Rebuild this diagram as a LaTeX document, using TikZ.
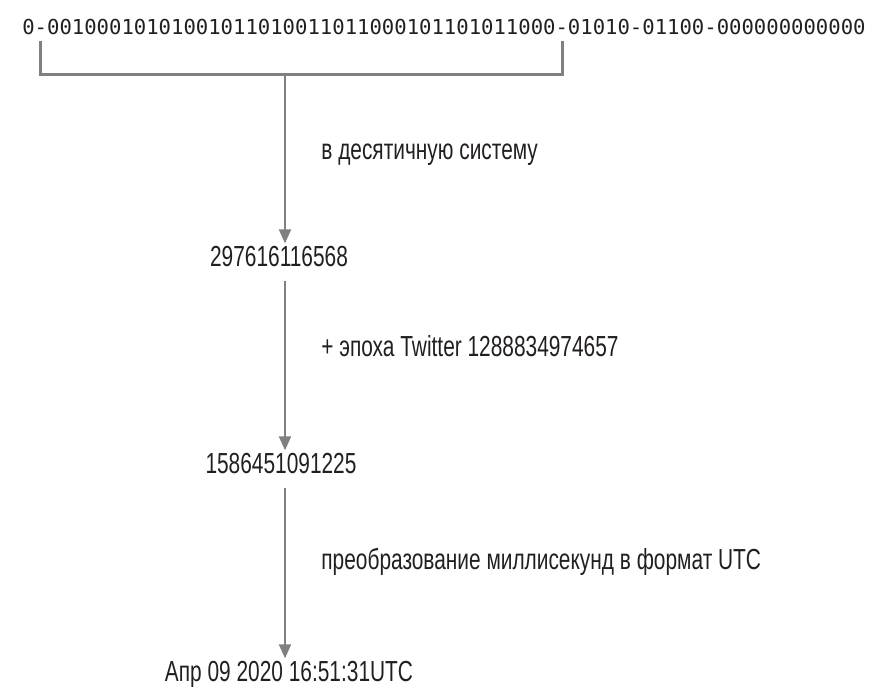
\documentclass[tikz,border=0pt]{standalone}
\usepackage{fontspec}
\setmainfont{Liberation Sans}[FakeStretch=0.72]
\newfontfamily\bitsfont{DejaVu Sans Mono}
\usetikzlibrary{arrows.meta}
\definecolor{linegray}{HTML}{808080}
\definecolor{textdark}{HTML}{231F20}
\tikzset{
  value/.style={inner sep=0pt,anchor=base,text=textdark,font=\fontsize{14.5}{17}\selectfont},
  note/.style={value,anchor=base west},
  bits/.style={value,font=\bitsfont\fontsize{10.3}{12}\selectfont},
  bracket/.style={draw=linegray,line width=1.5pt},
  flow/.style={draw=linegray,line width=1pt,-{Triangle[width=6pt,length=7pt]},linegray},
}

\begin{document}
\begin{tikzpicture}[x=0.5pt,y=-0.5pt]
        \useasboundingbox (0,0) rectangle (879,699);
        \node[bits] (id) at (444,35) {0-00100010101001011010011011000101101011000-01010-01100-000000000000};
        \coordinate (bl) at (40,41);
        \coordinate (br) at (562,41);
        \coordinate (bm) at (285,75);
        \draw[bracket] (bl) -- (bl |- bm) -- (br |- bm) -- (br);
        \node[value] (dec) at (279,267) {297616116568};
        \node[value] (epoch) at (281,474) {1586451091225};
        \node[value] (utc) at (289,682) {Апр 09 2020 16:51:31UTC};
        \draw[flow,shorten >=1.5pt] (bm) -- (bm |- dec.north);
        \draw[flow,shorten <=6.5pt,shorten >=1.5pt] (bm |- dec.south) -- (bm |- epoch.north);
        \draw[flow,shorten <=6.5pt,shorten >=1.5pt] (bm |- epoch.south) -- (bm |- utc.north);
        \node[note] (tobase) at (321,160) {в десятичную систему};
        \node[note] (addepoch) at (321,357) {+ эпоха Twitter 1288834974657};
        \node[note] (toutc) at (321,570) {преобразование миллисекунд в формат UTC};
\end{tikzpicture}
\end{document}
